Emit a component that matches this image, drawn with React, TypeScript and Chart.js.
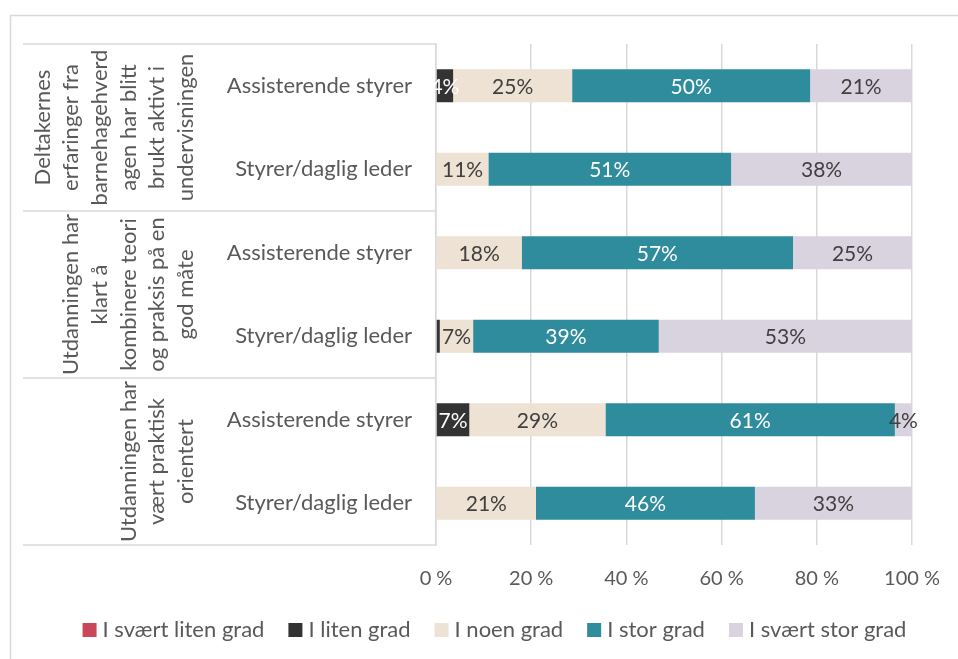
import React, { useEffect, useRef } from "react";
import { Chart, registerables } from "chart.js";

Chart.register(...registerables);

const categories = [
  "Assisterende styrer",
  "Styrer/daglig leder",
  "Assisterende styrer",
  "Styrer/daglig leder",
  "Assisterende styrer",
  "Styrer/daglig leder",
];

const groupLabels = [
  ["Deltakernes", "erfaringer fra", "barnehagehverd", "agen har blitt", "brukt aktivt i", "undervisningen"],
  ["Utdanningen har", "klart å", "kombinere teori", "og praksis på en", "god måte"],
  ["Utdanningen har", "vært praktisk", "orientert"],
];

const seriesNames = ["I svært liten grad", "I liten grad", "I noen grad", "I stor grad", "I svært stor grad"];
const svaertLiten = [0, 0, 0, 0, 0, 0];
const liten = [3.6, 0, 0, 0.8, 7, 0];
const noen = [25, 11, 18, 7, 28.6, 21];
const stor = [50, 51, 57, 39, 60.8, 46];
const svaertStor = [21.4, 38, 25, 53.2, 3.6, 33];

const xTicks = [0, 20, 40, 60, 80, 100];

const colors = ["#C8485A", "#333333", "#EDE2D3", "#2E8C9C", "#D9D3E0"];
const labelColors = ["#FFFFFF", "#FFFFFF", "#404040", "#FFFFFF", "#404040"];

const FONT = "Lato, 'Open Sans', sans-serif";
const TEXT = "#595959";
const LINE = "#D9D9D9";

export default function App() {
  const ref = useRef<HTMLCanvasElement | null>(null);

  useEffect(() => {
    if (!ref.current) return;
    const series = [svaertLiten, liten, noen, stor, svaertStor];

    const decor = {
      id: "decor",
      beforeDraw(chart: any) {
        const ctx = chart.ctx;
        ctx.save();
        ctx.strokeStyle = LINE;
        ctx.lineWidth = 1.5;
        ctx.beginPath();
        ctx.moveTo(10.5, chart.height);
        ctx.lineTo(10.5, 15.5);
        ctx.lineTo(chart.width, 15.5);
        ctx.stroke();
        ctx.restore();
      },
      afterDraw(chart: any) {
        const ctx = chart.ctx;
        const y = chart.scales.y;
        const area = chart.chartArea;
        ctx.save();
        // table lines
        ctx.strokeStyle = LINE;
        ctx.lineWidth = 1.5;
        const bounds = [area.top, y.getPixelForValue(1.5), y.getPixelForValue(3.5), area.bottom];
        bounds.forEach((b: number) => {
          ctx.beginPath();
          ctx.moveTo(23, b);
          ctx.lineTo(area.left, b);
          ctx.stroke();
        });
        // group labels
        ctx.fillStyle = TEXT;
        ctx.font = `22px ${FONT}`;
        ctx.textAlign = "center";
        ctx.textBaseline = "middle";
        groupLabels.forEach((lines, g) => {
          const yc = (y.getPixelForValue(2 * g) + y.getPixelForValue(2 * g + 1)) / 2;
          const n = lines.length;
          lines.forEach((line, i) => {
            const x = 186 - (n - 1 - i) * 28.7;
            ctx.save();
            ctx.translate(x, yc);
            ctx.rotate(-Math.PI / 2);
            ctx.fillText(line, 0, 0);
            ctx.restore();
          });
        });
        // legend
        ctx.font = `22px ${FONT}`;
        ctx.textAlign = "left";
        const box = 14;
        const gapBoxText = 6;
        const gapItems = 24;
        const widths = seriesNames.map((s) => ctx.measureText(s).width);
        const total = widths.reduce((a, w) => a + box + gapBoxText + w, 0) + gapItems * (seriesNames.length - 1);
        let lx = 494.5 - total / 2;
        const ly = 630;
        seriesNames.forEach((s, i) => {
          ctx.fillStyle = colors[i];
          ctx.fillRect(lx, ly - box / 2, box, box);
          ctx.fillStyle = TEXT;
          ctx.fillText(s, lx + box + gapBoxText, ly);
          lx += box + gapBoxText + widths[i] + gapItems;
        });
        ctx.restore();
      },
      afterDatasetsDraw(chart: any) {
        const ctx = chart.ctx;
        ctx.save();
        ctx.font = `21px ${FONT}`;
        ctx.textAlign = "center";
        ctx.textBaseline = "middle";
        chart.data.datasets.forEach((ds: any, di: number) => {
          const meta = chart.getDatasetMeta(di);
          meta.data.forEach((el: any, i: number) => {
            const v = ds.data[i];
            if (v < 2) return;
            const p = el.getProps(["x", "y", "base"], true);
            ctx.fillStyle = labelColors[di];
            ctx.fillText(`${Math.round(v)}%`, (p.x + p.base) / 2, p.y + 1);
          });
        });
        ctx.restore();
      },
    };

    const chart = new Chart(ref.current, {
      type: "bar",
      data: {
        labels: categories,
        datasets: seriesNames.map((name, i) => ({
          label: name,
          data: series[i],
          backgroundColor: colors[i],
          borderWidth: 0,
          categoryPercentage: 0.5,
          barPercentage: 0.79,
        })),
      },
      options: {
        indexAxis: "y",
        responsive: false,
        animation: false,
        layout: { padding: { top: 44, right: 46, left: 0, bottom: 0 } },
        plugins: { legend: { display: false }, tooltip: { enabled: false } },
        scales: {
          x: {
            type: "linear",
            stacked: true,
            min: 0,
            max: 100,
            afterBuildTicks(scale: any) {
              scale.ticks = xTicks.map((v) => ({ value: v }));
            },
            afterFit(scale: any) {
              scale.height = 114;
              scale.paddingRight = 0;
              scale.paddingLeft = 0;
            },
            ticks: {
              color: TEXT,
              font: { family: FONT, size: 20 },
              padding: 22,
              callback: (v: any) => `${v} %`,
            },
            grid: { color: LINE, lineWidth: 1.5, drawTicks: false },
            border: { display: false },
          },
          y: {
            type: "category",
            stacked: true,
            afterFit(scale: any) {
              scale.width = 436;
            },
            ticks: {
              color: TEXT,
              font: { family: FONT, size: 22 },
              padding: 24,
            },
            grid: { display: false, drawTicks: false },
            border: { display: true, color: LINE, width: 1.5 },
          },
        },
      },
      plugins: [decor],
    } as any);

    return () => chart.destroy();
  }, []);

  return (
    <div style={{ position: "fixed", left: 0, top: 0, width: 958, height: 659, background: "#fff" }}>
      <canvas ref={ref} width={958} height={659} style={{ width: 958, height: 659, display: "block" }} />
    </div>
  );
}
